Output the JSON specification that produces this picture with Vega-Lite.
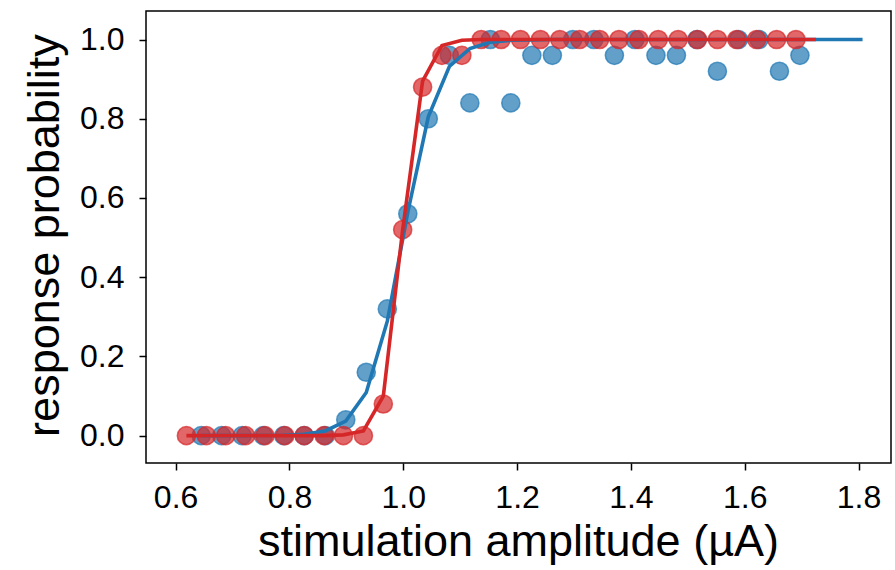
{
  "$schema": "https://vega.github.io/schema/vega-lite/v6.json",
  "autosize": {"type": "none"},
  "width": 745,
  "height": 452,
  "padding": {"left": 146, "top": 11, "right": 4, "bottom": 107},
  "background": "white",
  "config": {
    "font": "Liberation Sans",
    "view": {"stroke": "black", "strokeWidth": 1.5},
    "axis": {
      "grid": false,
      "domain": false,
      "tickColor": "black",
      "tickWidth": 1.5,
      "tickSize": 7,
      "labelColor": "black",
      "labelFont": "Liberation Sans",
      "labelFontSize": 32,
      "titleFont": "Liberation Sans",
      "titleFontSize": 45,
      "titleFontWeight": "normal",
      "titleColor": "black"
    }
  },
  "datasets": {
    "blue_pts": [
      {"x": 0.645, "y": 0}, {"x": 0.681, "y": 0}, {"x": 0.717, "y": 0}, {"x": 0.754, "y": 0},
      {"x": 0.790, "y": 0}, {"x": 0.826, "y": 0}, {"x": 0.863, "y": 0}, {"x": 0.899, "y": 0.04},
      {"x": 0.935, "y": 0.16}, {"x": 0.972, "y": 0.32}, {"x": 1.008, "y": 0.56}, {"x": 1.044, "y": 0.80},
      {"x": 1.081, "y": 0.96}, {"x": 1.117, "y": 0.84}, {"x": 1.153, "y": 1.0}, {"x": 1.189, "y": 0.84},
      {"x": 1.226, "y": 0.96}, {"x": 1.262, "y": 0.96}, {"x": 1.298, "y": 1.0}, {"x": 1.335, "y": 1.0},
      {"x": 1.371, "y": 0.96}, {"x": 1.407, "y": 1.0}, {"x": 1.444, "y": 0.96}, {"x": 1.480, "y": 0.96},
      {"x": 1.516, "y": 1.0}, {"x": 1.552, "y": 0.92}, {"x": 1.589, "y": 1.0}, {"x": 1.625, "y": 1.0},
      {"x": 1.661, "y": 0.92}, {"x": 1.697, "y": 0.96}
    ],
    "red_pts": [
      {"x": 0.619, "y": 0}, {"x": 0.654, "y": 0}, {"x": 0.688, "y": 0}, {"x": 0.723, "y": 0},
      {"x": 0.757, "y": 0}, {"x": 0.792, "y": 0}, {"x": 0.826, "y": 0}, {"x": 0.861, "y": 0},
      {"x": 0.895, "y": 0}, {"x": 0.930, "y": 0}, {"x": 0.965, "y": 0.08}, {"x": 0.999, "y": 0.52},
      {"x": 1.034, "y": 0.88}, {"x": 1.068, "y": 0.96}, {"x": 1.103, "y": 0.96}, {"x": 1.137, "y": 1.0},
      {"x": 1.172, "y": 1.0}, {"x": 1.206, "y": 1.0}, {"x": 1.241, "y": 1.0}, {"x": 1.275, "y": 1.0},
      {"x": 1.310, "y": 1.0}, {"x": 1.345, "y": 1.0}, {"x": 1.379, "y": 1.0}, {"x": 1.414, "y": 1.0},
      {"x": 1.448, "y": 1.0}, {"x": 1.483, "y": 1.0}, {"x": 1.517, "y": 1.0}, {"x": 1.552, "y": 1.0},
      {"x": 1.586, "y": 1.0}, {"x": 1.621, "y": 1.0}, {"x": 1.656, "y": 1.0}, {"x": 1.690, "y": 1.0}
    ],
    "blue_fit": [
      {"x": 0.645, "y": 0.0}, {"x": 0.681, "y": 0.0}, {"x": 0.717, "y": 0.0001}, {"x": 0.754, "y": 0.0004},
      {"x": 0.790, "y": 0.0011}, {"x": 0.826, "y": 0.0036}, {"x": 0.863, "y": 0.012}, {"x": 0.899, "y": 0.037},
      {"x": 0.935, "y": 0.109}, {"x": 0.972, "y": 0.289}, {"x": 1.008, "y": 0.564}, {"x": 1.044, "y": 0.805},
      {"x": 1.081, "y": 0.932}, {"x": 1.117, "y": 0.977}, {"x": 1.153, "y": 0.993}, {"x": 1.189, "y": 0.998},
      {"x": 1.226, "y": 0.999}, {"x": 1.262, "y": 1.0}, {"x": 1.298, "y": 1.0}, {"x": 1.335, "y": 1.0},
      {"x": 1.371, "y": 1.0}, {"x": 1.407, "y": 1.0}, {"x": 1.444, "y": 1.0}, {"x": 1.480, "y": 1.0},
      {"x": 1.516, "y": 1.0}, {"x": 1.552, "y": 1.0}, {"x": 1.589, "y": 1.0}, {"x": 1.625, "y": 1.0},
      {"x": 1.661, "y": 1.0}, {"x": 1.697, "y": 1.0}, {"x": 1.734, "y": 1.0}, {"x": 1.770, "y": 1.0},
      {"x": 1.807, "y": 1.0}
    ],
    "red_fit": [
      {"x": 0.619, "y": 0}, {"x": 0.654, "y": 0}, {"x": 0.688, "y": 0}, {"x": 0.723, "y": 0},
      {"x": 0.757, "y": 0}, {"x": 0.792, "y": 0}, {"x": 0.826, "y": 0}, {"x": 0.861, "y": 0.0002},
      {"x": 0.895, "y": 0.002}, {"x": 0.930, "y": 0.012}, {"x": 0.965, "y": 0.10}, {"x": 0.999, "y": 0.52},
      {"x": 1.034, "y": 0.895}, {"x": 1.068, "y": 0.985}, {"x": 1.103, "y": 0.998}, {"x": 1.137, "y": 1.0},
      {"x": 1.172, "y": 1.0}, {"x": 1.206, "y": 1.0}, {"x": 1.241, "y": 1.0}, {"x": 1.275, "y": 1.0},
      {"x": 1.310, "y": 1.0}, {"x": 1.345, "y": 1.0}, {"x": 1.379, "y": 1.0}, {"x": 1.414, "y": 1.0},
      {"x": 1.448, "y": 1.0}, {"x": 1.483, "y": 1.0}, {"x": 1.517, "y": 1.0}, {"x": 1.552, "y": 1.0},
      {"x": 1.586, "y": 1.0}, {"x": 1.621, "y": 1.0}, {"x": 1.656, "y": 1.0}, {"x": 1.690, "y": 1.0},
      {"x": 1.725, "y": 1.0}
    ]
  },
  "encoding": {
    "x": {
      "field": "x", "type": "quantitative",
      "scale": {"domain": [0.548, 1.857], "nice": false, "zero": false},
      "axis": {
        "title": "stimulation amplitude (µA)",
        "values": [0.6, 0.8, 1.0, 1.2, 1.4, 1.6, 1.8],
        "format": ".1f",
        "labelBaseline": "alphabetic",
        "labelPadding": 37,
        "titleBaseline": "alphabetic",
        "titleX": 372,
        "titleY": 92,
        "titleAnchor": "middle"
      }
    },
    "y": {
      "field": "y", "type": "quantitative",
      "scale": {"domain": [-0.069, 1.072], "nice": false, "zero": false},
      "axis": {
        "title": "response probability",
        "values": [0, 0.2, 0.4, 0.6, 0.8, 1.0],
        "format": ".1f",
        "labelPadding": 15,
        "labelBaseline": "middle",
        "titleAngle": -90,
        "titleBaseline": "alphabetic",
        "titleX": -88,
        "titleY": 224,
        "titleAnchor": "middle"
      }
    }
  },
  "layer": [
    {
      "data": {"name": "blue_pts"},
      "mark": {"type": "point", "filled": true, "shape": "circle", "size": 330, "fill": "#1f77b4", "fillOpacity": 0.7, "stroke": "#1f77b4", "strokeOpacity": 0.7, "strokeWidth": 1.5}
    },
    {
      "data": {"name": "red_pts"},
      "mark": {"type": "point", "filled": true, "shape": "circle", "size": 330, "fill": "#d62728", "fillOpacity": 0.7, "stroke": "#d62728", "strokeOpacity": 0.7, "strokeWidth": 1.5}
    },
    {
      "data": {"name": "blue_fit"},
      "mark": {"type": "line", "color": "#1f77b4", "strokeWidth": 3.6}
    },
    {
      "data": {"name": "red_fit"},
      "mark": {"type": "line", "color": "#d62728", "strokeWidth": 3.6}
    }
  ]
}
